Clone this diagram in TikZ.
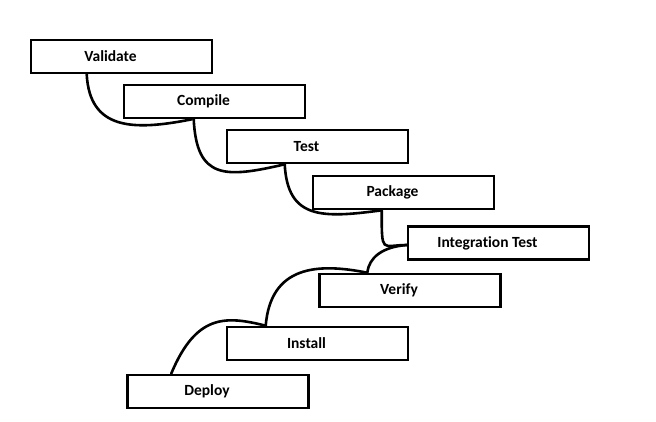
\documentclass[tikz,border=0pt]{standalone}
\usepackage{fontspec}
\setmainfont[Ligatures=NoCommon]{Carlito}
\usepackage{tikz}

\tikzset{
  stage/.style={draw, line width=2.6pt, minimum width=181pt, minimum height=33pt,
    inner sep=0pt, font=\fontsize{15.5}{18}\selectfont\bfseries,
    execute at begin node=\hspace*{-22pt}},
  link/.style={line width=2.6pt, line cap=round}
}

\begin{document}
\begin{tikzpicture}[x=1pt,y=-1pt]
\useasboundingbox (0,0) rectangle (656,421);

\node[stage] (validate) at (121.5,56.5) {Validate};
\node[stage] (compile) at (214.5,101.5) {Compile};
\node[stage] (test) at (317.5,146.5) {Test};
\node[stage] (package) at (403.5,192.5) {Package};
\node[stage] (integration) at (498.5,243) {Integration Test};
\node[stage] (verify) at (410,290.5) {Verify};
\node[stage] (install) at (317.5,343.5) {Install};
\node[stage] (deploy) at (218,391.5) {Deploy};

\draw[link] ([xshift=57pt]validate.south west) .. controls +(3,55) and +(-60,12) .. ([xshift=69pt]compile.south west);
\draw[link] ([xshift=71pt]compile.south west) .. controls +(3,60) and +(-60,14) .. ([xshift=59pt]test.south west);
\draw[link] ([xshift=59pt]test.south west) .. controls +(3,55) and +(-60,8) .. ([xshift=70pt]package.south west);
\draw[link] ([xshift=70pt]package.south west) .. controls +(0,45) and +(-25,0) .. ([yshift=-2pt]integration.west);
\draw[link] ([yshift=-2pt]integration.west) .. controls +(-25,2) and +(2,-15) .. ([xshift=49pt]verify.north west);
\draw[link] ([xshift=49pt]verify.north west) .. controls +(-50,-10) and +(5,-60) .. ([xshift=40pt]install.north west);
\draw[link] ([xshift=40pt]install.north west) .. controls +(-40,-10) and +(25,-60) .. ([xshift=45pt]deploy.north west);
\end{tikzpicture}
\end{document}
